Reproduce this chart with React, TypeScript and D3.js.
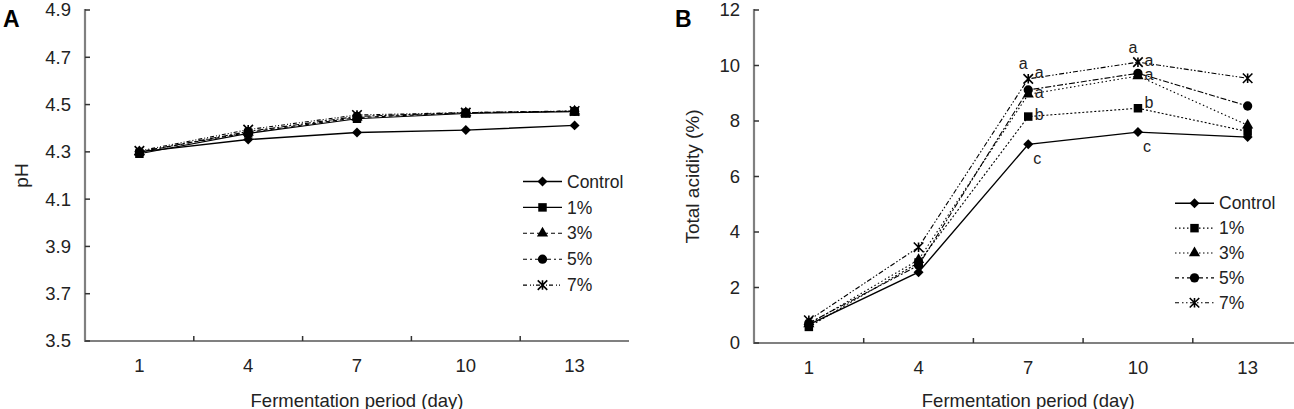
import React from 'react';
import * as d3 from 'd3';

const days = ['1', '4', '7', '10', '13'];
const seriesNames = ['Control', '1%', '3%', '5%', '7%'];

// panel A, pH
const phControl = [4.3, 4.352, 4.382, 4.392, 4.412];
const ph1 = [4.292, 4.378, 4.44, 4.462, 4.47];
const ph3 = [4.3, 4.382, 4.445, 4.465, 4.472];
const ph5 = [4.3, 4.386, 4.45, 4.466, 4.472];
const ph7 = [4.304, 4.394, 4.456, 4.466, 4.473];
const phTicks = [3.5, 3.7, 3.9, 4.1, 4.3, 4.5, 4.7, 4.9];

// panel B, total acidity (%)
const taControl = [0.66, 2.55, 7.16, 7.6, 7.42];
const ta1 = [0.58, 2.9, 8.16, 8.46, 7.62];
const ta3 = [0.68, 3.0, 8.96, 9.62, 7.85];
const ta5 = [0.72, 2.8, 9.12, 9.72, 8.54];
const ta7 = [0.82, 3.45, 9.52, 10.12, 9.54];
const taTicks = [0, 2, 4, 6, 8, 10, 12];

// significance letters on panel B
const letterDays = ['7', '7', '7', '7', '7', '10', '10', '10', '10', '10'];
const letterSeries = ['7%', '7%', '3%', '1%', 'Control', '7%', '7%', '3%', '1%', 'Control'];
const letterText = ['a', 'a', 'a', 'b', 'c', 'a', 'a', 'a', 'b', 'c'];
const letterPlace = ['above', 'upright', 'right', 'right', 'below', 'above', 'right', 'right', 'upright', 'below'];

const font = 'Arial, "Liberation Sans", sans-serif';
const axisColor = '#808080';
const textColor = '#222';

const markerPath = (name: string, s: number) => {
  if (name === 'Control') return d3.symbol(d3.symbolSquare, s * s * 0.55)()!;
  if (name === '1%') return d3.symbol(d3.symbolSquare, s * s * 0.8)()!;
  if (name === '3%') return d3.symbol(d3.symbolTriangle, s * s * 0.6)()!;
  if (name === '5%') return d3.symbol(d3.symbolCircle, s * s * 0.75)()!;
  const r = s / 2;
  return `M${-r},${-r}L${r},${r}M${-r},${r}L${r},${-r}M0,${-r}L0,${r}`;
};

const Marker = ({ name, x, y }: { name: string; x: number; y: number }) => {
  const star = name === '7%';
  return (
    <path
      d={markerPath(name, 9.5)}
      transform={`translate(${x},${y})${name === 'Control' ? ' rotate(45)' : ''}`}
      fill={star ? 'none' : '#000'}
      stroke="#000"
      strokeWidth={star ? 1.6 : 0}
    />
  );
};

const letterOffset = (place: string): [number, number] => {
  if (place === 'above') return [-5, -15];
  if (place === 'upright') return [11, -6];
  if (place === 'right') return [11, -2];
  return [9, 14];
};

type PanelProps = {
  left: number;
  top: number;
  bottom: number;
  band: number;
  domain: [number, number];
  ticks: number[];
  tickFmt: (v: number) => string;
  values: number[][];
  dashes: string[];
  legendX: number;
  legendY: number;
  legendStep: number;
  legendDashes: string[];
  title: string;
  titleX: number;
  label: string;
  labelX: number;
  letters?: boolean;
  clipRight: number;
};

const Panel = (p: PanelProps) => {
  const x = d3
    .scaleBand()
    .domain(days)
    .range([p.left, p.left + p.band * days.length]);
  const y = d3.scaleLinear().domain(p.domain).range([p.bottom, p.top]);
  const cx = (d: string) => x(d)! + x.bandwidth() / 2;
  const line = d3
    .line<number>()
    .x((_, i) => cx(days[i]))
    .y((d) => y(d));
  const right = Math.min(x.range()[1], p.clipRight);
  const mid = (p.top + p.bottom) / 2;

  return (
    <g fontFamily={font}>
      <text x={p.labelX} y={27} fontSize={23} fontWeight="bold" fill="#000">
        {p.label}
      </text>
      {/* axes */}
      <line x1={p.left} x2={p.left} y1={p.top - 1} y2={p.bottom} stroke={axisColor} strokeWidth={2.2} />
      <line x1={p.left - 1} x2={right} y1={p.bottom} y2={p.bottom} stroke={axisColor} strokeWidth={2.2} />
      {p.ticks.map((t) => (
        <g key={t}>
          <line x1={p.left} x2={p.left + 5} y1={y(t)} y2={y(t)} stroke="#333" strokeWidth={1.5} />
          <text x={p.left - 14} y={y(t)} dy="0.35em" textAnchor="end" fontSize={18.5} fill={textColor}>
            {p.tickFmt(t)}
          </text>
        </g>
      ))}
      {days.slice(1).map((d) => (
        <line key={d} x1={x(d)} x2={x(d)} y1={p.bottom} y2={p.bottom - 5} stroke="#333" strokeWidth={1.5} />
      ))}
      {days.map((d) => (
        <text key={d} x={cx(d)} y={p.bottom + 25} dy="0.35em" textAnchor="middle" fontSize={18.5} fill={textColor}>
          {d}
        </text>
      ))}
      <text x={p.left + (p.band * days.length) / 2} y={407} textAnchor="middle" fontSize={18.5} fill={textColor}>
        Fermentation period (day)
      </text>
      <text
        transform={`translate(${p.titleX},${mid}) rotate(-90)`}
        textAnchor="middle"
        dy="0.35em"
        fontSize={19}
        fill={textColor}
      >
        {p.title}
      </text>
      {/* series, drawn from last to first so control stays on top */}
      {seriesNames
        .map((name, si) => ({ name, si }))
        .reverse()
        .map(({ name, si }) => (
          <g key={name}>
            <path
              d={line(p.values[si])!}
              fill="none"
              stroke="#000"
              strokeWidth={si === 0 ? 1.4 : 1.1}
              strokeDasharray={p.dashes[si]}
            />
            {p.values[si].map((v, i) => (
              <Marker key={i} name={name} x={cx(days[i])} y={y(v)} />
            ))}
          </g>
        ))}
      {p.letters &&
        letterText.map((t, i) => {
          const si = seriesNames.indexOf(letterSeries[i]);
          const di = days.indexOf(letterDays[i]);
          const [dx, dy] = letterOffset(letterPlace[i]);
          return (
            <text
              key={i}
              x={cx(letterDays[i]) + dx}
              y={y(p.values[si][di]) + dy}
              dy="0.35em"
              textAnchor="middle"
              fontSize={16}
              fill={textColor}
            >
              {t}
            </text>
          );
        })}
      {/* legend */}
      {seriesNames.map((name, si) => {
        const ly = p.legendY + si * p.legendStep;
        return (
          <g key={name}>
            <line
              x1={p.legendX}
              x2={p.legendX + 39}
              y1={ly}
              y2={ly}
              stroke="#000"
              strokeWidth={si === 0 ? 1.4 : 1.1}
              strokeDasharray={p.legendDashes[si]}
            />
            <Marker name={name} x={p.legendX + 19.5} y={ly} />
            <text x={p.legendX + 44} y={ly} dy="0.35em" fontSize={17.5} fill={textColor}>
              {name}
            </text>
          </g>
        );
      })}
    </g>
  );
};

const App = () => {
  return (
    <svg width={1294} height={409} style={{ position: 'absolute', left: 0, top: 0, background: '#fff' }}>
      <Panel
        left={85}
        top={10}
        bottom={341}
        band={108.8}
        domain={[3.5, 4.9]}
        ticks={phTicks}
        tickFmt={(v) => v.toFixed(1)}
        values={[phControl, ph1, ph3, ph5, ph7]}
        dashes={['', '', '4,3', '6,2,2,2', '4,2,1,2,1,2']}
        legendX={523}
        legendY={181.5}
        legendStep={25.9}
        legendDashes={['', '', '4,3', '4,3,2,3', '4,3,1,2,1,2']}
        title="pH"
        titleX={21}
        label="A"
        labelX={3}
        clipRight={1294}
      />
      <Panel
        left={754}
        top={10}
        bottom={343}
        band={109.7}
        domain={[0, 12]}
        ticks={taTicks}
        tickFmt={(v) => String(v)}
        values={[taControl, ta1, ta3, ta5, ta7]}
        dashes={['', '2,2', '1.5,2.5', '6,2,2,2', '5,2,1.5,2,1.5,2']}
        legendX={1175}
        legendY={203.3}
        legendStep={24.85}
        legendDashes={['', '1.5,2.5', '1.5,2.5', '4,3,2,3', '4,3,1.5,2.5,1.5,2.5']}
        title="Total acidity (%)"
        titleX={692}
        label="B"
        labelX={675}
        letters
        clipRight={1294}
      />
    </svg>
  );
};

export default App;
